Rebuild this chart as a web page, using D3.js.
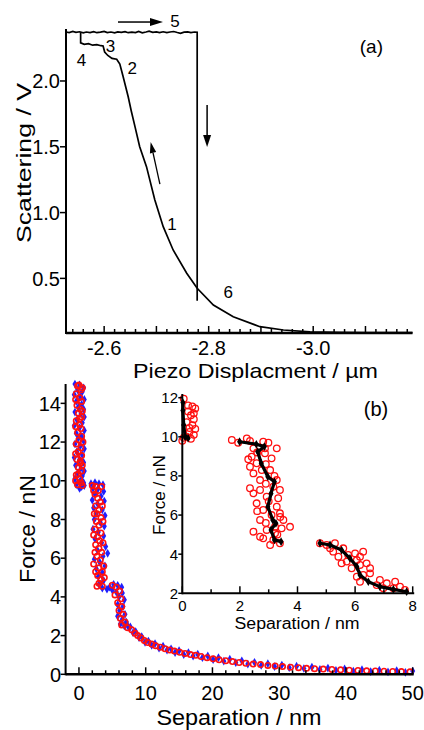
<!DOCTYPE html>
<html><head><meta charset="utf-8">
<script src="https://cdn.jsdelivr.net/npm/d3@7"></script>
<style>
body{margin:0;background:#fff}
svg{display:block}
text{font-family:"Liberation Sans",Arial,sans-serif;fill:#000}
</style>
</head><body>
<svg id="c" width="424" height="730"></svg>
<script>
// ---------- Panel (a) data ----------
const approachX = [-2.555,-2.555,-2.562,-2.57,-2.578,-2.586,-2.594,-2.598,-2.601,-2.607,-2.615,-2.624,-2.63,-2.636,-2.646,-2.652,-2.659,-2.668,-2.681,-2.697,-2.713,-2.732,-2.758,-2.778,-2.809,-2.847,-2.898,-2.943,-2.994,-3.05,-3.1,-3.19];
const approachY = [2.37,2.29,2.278,2.283,2.272,2.276,2.268,2.266,2.22,2.194,2.172,2.165,2.129,2.038,1.88,1.77,1.653,1.5,1.349,1.096,0.893,0.716,0.539,0.425,0.298,0.209,0.133,0.108,0.093,0.09,0.088,0.088];
const retractX = [-2.527,-2.533,-2.54,-2.546,-2.553,-2.56,-2.566,-2.573,-2.58,-2.586,-2.593,-2.6,-2.606,-2.613,-2.62,-2.626,-2.633,-2.64,-2.646,-2.653,-2.66,-2.666,-2.673,-2.68,-2.686,-2.693,-2.7,-2.706,-2.713,-2.72,-2.726,-2.733,-2.74,-2.746,-2.753,-2.76,-2.766,-2.773,-2.778,-2.778];
const retractY = [2.372,2.368,2.376,2.369,2.374,2.366,2.372,2.368,2.375,2.367,2.371,2.377,2.368,2.372,2.366,2.373,2.369,2.375,2.367,2.371,2.368,2.376,2.366,2.372,2.378,2.369,2.373,2.367,2.374,2.368,2.372,2.376,2.368,2.362,2.371,2.373,2.367,2.372,2.37,0.33];
const aTickLabels = [-2.6,-2.8,-3.0];
const aYTickLabels = [0.5,1.0,1.5,2.0];
const aNotes = [["5",-2.7353,2.456],["4",-2.5567,2.16],["3",-2.6119,2.267],["2",-2.6536,2.0965],["1",-2.7296,0.9134],["6",-2.8373,0.399]];

// ---------- Panel (b) data ----------
const blueData = [
[-0.6,15.0],[0.1,14.95],[0.7,14.8],[-0.2,14.7],[0.5,14.6],[-0.7,14.45],[0.2,14.35],[0.8,14.2],[-0.4,14.1],[0.4,13.95],[-0.1,13.8],[0.7,13.7],[-0.6,13.55],[0.3,13.45],[0.8,13.3],[-0.3,13.15],[0.5,13.0],[-0.7,12.85],[0.1,12.75],[0.8,12.6],[-0.4,12.45],[0.4,12.3],[-0.1,12.2],[0.7,12.05],[-0.6,11.9],[0.2,11.8],[0.8,11.65],[-0.3,11.5],[0.5,11.35],[-0.7,11.2],[0.1,11.1],[0.7,10.95],[-0.5,10.8],[0.3,10.65],[0.8,10.5],[-0.2,10.4],[0.5,10.25],[-0.6,10.1],[0.2,10.0],[0.7,9.9],[-0.4,9.8],[0.4,9.7],[0.1,9.6],[0.8,9.75],
[1.8,9.85],[2.4,9.9],[3.0,9.85],[3.6,9.8],[2.1,9.6],[2.8,9.55],[3.7,9.45],[2.4,9.3],[3.3,9.2],[2.0,9.0],[3.8,8.95],[2.8,8.8],[2.2,8.6],[3.5,8.5],[2.6,8.3],[3.9,8.2],[2.3,8.0],[3.2,7.85],[3.8,7.65],[2.1,7.5],[2.9,7.35],[3.7,7.15],[2.4,7.0],[3.4,6.8],[4.0,6.6],[2.7,6.45],[4.3,6.25],[3.6,6.1],[2.3,5.95],[3.1,5.8],[3.9,5.6],[2.6,5.45],[3.5,5.25],[2.9,5.05],[3.7,4.85],[3.0,4.65],[3.5,4.45],[4.2,4.4],
[4.6,4.5],[5.2,4.65],[5.8,4.6],[6.4,4.5],[5.0,4.35],[5.6,4.25],[6.5,4.2],[6.0,4.0],[6.8,3.85],[5.8,3.6],[6.6,3.5],[6.1,3.3],[6.9,3.1],[5.8,3.0],[6.5,2.85],[7.1,2.7],[6.2,2.6],[6.8,2.5],[7.4,2.45],
[7.7,2.45],[8.1,2.15],[8.5,2.2],[9.0,1.9],[9.4,1.95],[9.9,1.65],[10.4,1.72],[10.9,1.5],[11.4,1.58],[12.0,1.35],[12.6,1.45],[13.2,1.25],[13.8,1.32],[14.4,1.12],[15.0,1.22],[15.7,1.02],[16.4,1.12],[17.1,0.94],[17.8,1.04],[18.5,0.86],[19.3,0.95],[20.1,0.76],[20.9,0.86],[21.7,0.68],[22.6,0.78],[23.5,0.6],[24.4,0.7],[25.3,0.53],[26.3,0.62],[27.3,0.46],[28.3,0.55],[29.3,0.4],[30.4,0.48],[31.5,0.34],[32.6,0.42],[33.7,0.3],[34.9,0.37],[36.1,0.25],[37.3,0.32],[38.5,0.2],[39.8,0.28],[41.1,0.17],[42.4,0.24],[43.7,0.14],[45.0,0.21],[46.3,0.12],[47.6,0.19],[48.9,0.1],[50.0,0.17]];
const redData = [
[-0.2,14.9],[0.3,14.7],[-0.4,14.5],[0.1,14.3],[0.4,14.1],[-0.3,13.9],[0.2,13.7],[-0.1,13.5],[0.4,13.3],[-0.4,13.1],[0.1,12.9],[0.3,12.7],[-0.2,12.5],[0.4,12.3],[0.0,12.1],[-0.4,11.9],[0.3,11.7],[-0.1,11.5],[0.4,11.3],[-0.3,11.1],[0.2,10.9],[-0.1,10.7],[0.4,10.5],[-0.4,10.3],[0.1,10.1],[0.3,9.9],[-0.2,9.8],
[0.5,14.8],[-0.5,14.2],[0.5,13.6],[-0.5,12.8],[0.6,12.0],[-0.5,11.4],[0.5,10.8],[-0.5,10.0],[0.5,9.75],[0.0,14.95],[0.1,13.2],[0.2,11.0],[-0.1,10.35],
[2.0,9.75],[2.5,9.7],[2.9,9.5],[2.4,9.3],[2.8,9.1],[3.2,8.9],[2.5,8.7],[3.0,8.5],[2.7,8.3],[3.3,8.1],[2.6,7.9],[3.0,7.7],[2.4,7.5],[3.3,7.3],[2.8,7.1],[3.1,6.9],[2.5,6.7],[3.0,6.5],[3.4,6.3],[2.7,6.1],[3.2,5.9],[2.2,5.7],[3.0,5.5],[3.5,5.3],[2.8,5.1],[3.3,4.9],[3.0,4.7],[3.5,4.55],
[3.4,9.7],[2.2,9.5],[3.5,8.7],[2.3,8.3],[3.6,7.9],[2.2,7.2],[3.6,6.8],[2.4,6.3],[3.7,5.6],[2.5,5.3],[3.8,5.0],[2.7,4.55],
[5.0,4.6],[5.6,4.5],[6.1,4.3],[5.4,4.1],[6.3,3.9],[5.8,3.7],[6.4,3.5],[6.0,3.3],[6.6,3.1],[6.2,2.9],[6.9,2.7],[6.4,2.55],[7.3,2.4],
[7.9,2.3],[8.4,2.12],[8.8,2.0],[9.3,1.88],[9.8,1.75],[10.3,1.64],[10.9,1.56],[11.5,1.48],[12.2,1.4],[12.9,1.32],[13.6,1.26],[14.3,1.2],[15.1,1.14],[15.9,1.08],[16.7,1.02],[17.5,0.98],[18.3,0.92],[19.2,0.86],[20.1,0.8],[21.0,0.75],[22.0,0.7],[23.0,0.66],[24.0,0.61],[25.0,0.57],[26.1,0.53],[27.2,0.5],[28.3,0.46],[29.4,0.43],[30.5,0.4],[31.7,0.37],[32.9,0.34],[34.1,0.31],[35.3,0.29],[36.6,0.27],[37.9,0.25],[39.2,0.23],[40.5,0.21],[41.8,0.2],[43.1,0.18],[44.4,0.17],[45.7,0.16],[47.0,0.15],[48.3,0.14],[49.6,0.13]];
const bXTicks = [0,10,20,30,40,50];
const bYTicks = [0,2,4,6,8,10,12,14];

// ---------- Inset data ----------
const insetRed = [
[0.05,11.95],[0.35,11.55],[0.45,11.45],[0.2,11.3],[0.3,11.1],[0.4,10.9],[0.15,10.75],[0.35,10.6],[0.45,10.4],[0.25,10.25],[0.4,10.1],[0.15,10.0],[0.0,9.8],[0.05,9.95],[0.3,9.9],[0.25,10.45],[0.4,11.2],[0.2,11.6],
[1.72,9.84],[1.94,9.7],[2.24,9.92],[2.35,9.79],[2.47,9.41],[2.41,8.98],[2.29,8.85],[2.35,8.47],[2.58,8.65],[2.87,9.16],[3.28,9.41],[2.99,9.7],[2.81,9.75],[2.47,8.13],[2.7,7.79],[2.35,7.37],[2.47,7.11],[2.7,7.28],[3.16,7.45],[3.39,7.28],[3.33,6.86],[2.58,6.6],[2.81,6.26],[3.28,6.43],[3.1,6.0],[2.7,5.75],[3.51,5.75],[3.74,5.4],[3.45,5.32],[2.93,5.24],[2.47,5.15],[2.81,4.81],[3.16,4.73],[3.39,4.56],[3.05,4.47],[2.87,9.41],[2.76,8.3],[3.05,8.3],[3.28,7.79],[2.93,6.94],[3.39,6.09],[3.22,5.4],[2.7,4.89],[3.22,5.07],[2.9,8.6],[3.1,8.9],[2.6,9.2],[3.2,8.0],[2.9,7.6],[3.0,6.7],[2.6,6.2],[3.4,5.9],[2.9,5.6],[3.3,5.0],
[4.78,4.56],[5.01,4.47],[5.3,4.56],[5.24,4.13],[5.59,4.3],[5.42,3.87],[5.76,3.96],[5.71,3.62],[6.0,4.04],[6.17,3.87],[5.88,3.28],[6.17,3.45],[6.4,3.53],[6.52,3.02],[6.28,2.94],[6.06,2.85],[6.17,2.59],[6.86,2.68],[7.1,2.51],[7.39,2.59],[7.56,2.34],[7.73,2.17],[6.75,2.42],[6.28,4.13],[5.53,3.53],[6.52,3.28],[7.33,2.26],[6.98,2.26],[6.06,3.7],[5.13,4.3]];
const insetBlack1 = [[0.02,11.75],[0.02,11.35],[0.05,10.6],[0.1,10.0],[0.2,9.93]];
const insetBlack2 = [[1.99,9.75],[2.57,9.62],[2.85,9.5],[2.62,9.24],[2.74,8.65],[2.97,7.96],[3.2,7.7],[3.08,7.1],[2.97,6.43],[3.14,5.75],[3.25,5.58],[3.08,5.24],[3.2,4.73],[3.43,4.64]];
const insetBlack3 = [[4.78,4.56],[5.13,4.47],[5.53,4.21],[5.82,3.79],[6.06,3.36],[6.17,2.94],[6.46,2.59],[6.86,2.34],[7.33,2.2],[7.79,2.08]];
const iXTicks = [0,2,4,6,8];
const iYTicks = [2,4,6,8,10,12];

// ---------- drawing ----------
const svg = d3.select("#c");

function line(g,x1,y1,x2,y2,w){
  g.append("line").attr("x1",x1).attr("y1",y1).attr("x2",x2).attr("y2",y2)
   .attr("stroke","#000").attr("stroke-width",w||1.5);
}
function arrow(g,x1,y1,x2,y2,len,hw,w){
  const dx=x2-x1, dy=y2-y1, L=Math.hypot(dx,dy), ux=dx/L, uy=dy/L;
  const bx=x2-ux*len, by=y2-uy*len;
  line(g,x1,y1,bx,by,w||1.5);
  g.append("path").attr("d",`M${x2},${y2}L${bx-uy*hw},${by+ux*hw}L${bx+uy*hw},${by-ux*hw}Z`).attr("fill","#000");
}
function txt(g,s,x,y,size,anchor,extra){
  const t=g.append("text").attr("x",x).attr("y",y).attr("font-size",size)
    .attr("text-anchor",anchor||"middle").text(s);
  if(extra) extra(t);
  return t;
}

// ===== Panel (a) =====
const xA = d3.scaleLinear().domain([-2.527,-3.19]).range([66,412.5]);
const yA = d3.scaleLinear().domain([0.085,2.395]).range([333,29]);
const gA = svg.append("g");

const lA = d3.line().x(d=>xA(d[0])).y(d=>yA(d[1]));
gA.append("path").datum(approachX.map((v,i)=>[v,approachY[i]])).attr("d",lA)
  .attr("fill","none").attr("stroke","#000").attr("stroke-width",1.7);
gA.append("path").datum(retractX.map((v,i)=>[v,retractY[i]])).attr("d",lA)
  .attr("fill","none").attr("stroke","#000").attr("stroke-width",1.7);

line(gA,xA.range()[0],yA.range()[1],xA.range()[0],yA.range()[0]+1,2);
line(gA,xA.range()[0],yA.range()[0],xA.range()[1],yA.range()[0],2.5);
d3.range(33).forEach(i=>{
  const v=-2.54-0.02*i, major=(i%5===3);
  const x=xA(v);
  line(gA,x,yA.range()[0],x,yA.range()[0]-(major?7:4),1.5);
});
aTickLabels.forEach(v=>txt(gA,v.toFixed(1),xA(v),355,20));
aYTickLabels.forEach(v=>{
  line(gA,xA.range()[0]-6,yA(v),xA.range()[0],yA(v),1.5);
  txt(gA,v.toFixed(1),60,yA(v),20,"end",t=>t.attr("dy","0.36em"));
});
txt(gA,"Piezo Displacment / µm",255.5,378,21,"middle",t=>t.attr("textLength",245).attr("lengthAdjust","spacingAndGlyphs"));
gA.append("text").attr("transform","translate(31,163) rotate(-90)").attr("font-size",21)
  .attr("text-anchor","middle").attr("textLength",160).attr("lengthAdjust","spacingAndGlyphs").text("Scattering / V");
aNotes.forEach(n=>txt(gA,n[0],xA(n[1]),yA(n[2]),17,"middle",t=>t.attr("dy","0.36em")));
txt(gA,"(a)",xA(-3.1114),yA(2.266),19,"middle",t=>t.attr("dy","0.36em"));
arrow(gA,xA(-2.6265),yA(2.448),xA(-2.7126),yA(2.448),13,4,1.5);
arrow(gA,xA(-2.797),yA(1.818),xA(-2.797),yA(1.498),12,4,1.5);
arrow(gA,xA(-2.7067),yA(1.217),xA(-2.689),yA(1.536),11,3.2,1.3);

// ===== Panel (b) =====
const xB = d3.scaleLinear().domain([-2,50]).range([65.6,412.7]);
const yB = d3.scaleLinear().domain([0,15]).range([674.3,384]);
const gB = svg.append("g");
const diamond = d3.symbol().type(d3.symbolDiamond).size(22);
gB.selectAll("path.blue").data(blueData).enter().append("path").attr("class","blue")
  .attr("d",diamond).attr("transform",d=>`translate(${xB(d[0])},${yB(d[1])})`)
  .attr("fill","#1f1fff");
gB.selectAll("circle.red").data(redData).enter().append("circle").attr("class","red")
  .attr("cx",d=>xB(d[0])).attr("cy",d=>yB(d[1])).attr("r",2.7)
  .attr("fill","none").attr("stroke","#ff1010").attr("stroke-width",1.6);

line(gB,xB.range()[0],yB.range()[1],xB.range()[0],yB.range()[0]+1,2);
line(gB,xB.range()[0],yB.range()[0],xB.range()[1]+1,yB.range()[0],2.5);
d3.range(0,51,2).forEach(v=>{
  const major = v%10===0;
  line(gB,xB(v),yB.range()[0],xB(v),yB.range()[0]-(major?7:4),1.5);
});
bXTicks.forEach(v=>txt(gB,String(v),xB(v),700,20));
bYTicks.forEach(v=>{
  line(gB,xB.range()[0]-5,yB(v),xB.range()[0],yB(v),1.5);
  txt(gB,String(v),61,yB(v),20,"end",t=>t.attr("dy","0.36em"));
});
txt(gB,"Separation / nm",239,725,22,"middle",t=>t.attr("textLength",165).attr("lengthAdjust","spacingAndGlyphs"));
gB.append("text").attr("transform","translate(35,529) rotate(-90)").attr("font-size",22)
  .attr("text-anchor","middle").attr("textLength",108).attr("lengthAdjust","spacingAndGlyphs").text("Force / nN");

// ===== Inset =====
const xI = d3.scaleLinear().domain([0,8]).range([182.3,412.7]);
const yI = d3.scaleLinear().domain([2,12]).range([593.3,397.7]);
const gI = svg.append("g");
gI.selectAll("circle").data(insetRed).enter().append("circle")
  .attr("cx",d=>xI(d[0])).attr("cy",d=>yI(d[1])).attr("r",3.3)
  .attr("fill","none").attr("stroke","#ff1010").attr("stroke-width",1.3);
const lI = d3.line().x(d=>xI(d[0])).y(d=>yI(d[1]));
[insetBlack1,insetBlack2,insetBlack3].forEach(arr=>{
  gI.append("path").datum(arr).attr("d",lI).attr("fill","none").attr("stroke","#000").attr("stroke-width",3.2).attr("stroke-linejoin","round");
  gI.selectAll(null).data(arr).enter().append("path")
    .attr("d",d3.symbol().type(d3.symbolDiamond).size(22))
    .attr("transform",d=>`translate(${xI(d[0])},${yI(d[1])})`).attr("fill","#000");
});
line(gI,xI.range()[0],394,xI.range()[0],yI.range()[0]+1,2);
line(gI,xI.range()[0],yI.range()[0],xI.range()[1]+1.5,yI.range()[0],2);
d3.range(0,9,1).forEach(v=>{
  const major=v%2===0;
  line(gI,xI(v),yI.range()[0],xI(v),yI.range()[0]-(major?7:4),1.5);
});
iXTicks.forEach(v=>txt(gI,String(v),xI(v),611,15));
iYTicks.forEach(v=>{
  line(gI,xI.range()[0]-4,yI(v),xI.range()[0],yI(v),1.5);
  txt(gI,String(v),178,yI(v),15,"end",t=>t.attr("dy","0.36em"));
});
txt(gI,"Separation / nm",297,629,16,"middle",t=>t.attr("textLength",125).attr("lengthAdjust","spacingAndGlyphs"));
gI.append("text").attr("transform","translate(165,495) rotate(-90)").attr("font-size",17)
  .attr("text-anchor","middle").attr("textLength",80).attr("lengthAdjust","spacingAndGlyphs").text("Force / nN");
txt(gI,"(b)",xI(6.726),yI(11.42),20,"middle",t=>t.attr("dy","0.36em"));
</script>
</body></html>
